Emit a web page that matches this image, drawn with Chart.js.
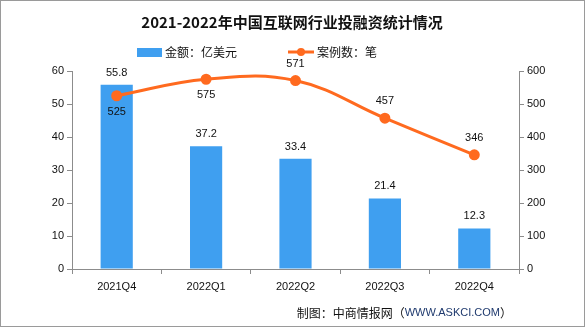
<!DOCTYPE html>
<html>
<head>
<meta charset="utf-8">
<script src="https://cdn.jsdelivr.net/npm/chart.js@4"></script>
<style>
  html, body { margin: 0; padding: 0; background: #fff; }
  #wrap { width: 585px; height: 327px; position: relative; }
</style>
</head>
<body>
<div id="wrap"><canvas id="chart" width="585" height="327"></canvas></div>
<script>
var quarters = ['2021Q4', '2022Q1', '2022Q2', '2022Q3', '2022Q4'];
var amounts = [55.8, 37.2, 33.4, 21.4, 12.3];
var deals = [525, 575, 571, 457, 346];
var dealLabelBelow = [true, true, false, false, false];

var titleText = '2021-2022年中国互联网行业投融资统计情况';
var amountLegend = '金额：亿美元';
var dealLegend = '案例数：笔';

var BLUE = '#3f9ff0';
var ORANGE = '#ff6a1f';
var AXIS = '#8c8c8c';
var FONT = '"Noto Sans CJK SC", "DejaVu Sans", sans-serif';
var NUMFONT = '"Liberation Sans", "DejaVu Sans", sans-serif';

var decorPlugin = {
    id: 'decor',
    afterDraw: function(chart) {
        var ctx = chart.ctx;
        ctx.save();
        // frame
        ctx.strokeStyle = '#9a9a9a';
        ctx.lineWidth = 1;
        ctx.strokeRect(0.5, 0.5, 584, 326);

        // title
        ctx.fillStyle = '#111';
        ctx.font = 'bold 15px ' + FONT;
        ctx.textAlign = 'center';
        ctx.textBaseline = 'middle';
        ctx.fillText(titleText, 292, 22);

        // legend
        ctx.font = '12px ' + FONT;
        ctx.textAlign = 'left';
        ctx.fillStyle = BLUE;
        ctx.fillRect(137, 48, 25, 9);
        ctx.fillStyle = '#111';
        ctx.fillText(amountLegend, 165, 52);
        ctx.strokeStyle = ORANGE;
        ctx.lineWidth = 3;
        ctx.beginPath();
        ctx.moveTo(288, 52);
        ctx.lineTo(314, 52);
        ctx.stroke();
        ctx.fillStyle = ORANGE;
        ctx.beginPath();
        ctx.arc(301, 52, 4, 0, Math.PI * 2);
        ctx.fill();
        ctx.fillStyle = '#111';
        ctx.fillText(dealLegend, 317, 52);

        // value labels
        ctx.font = '11px ' + NUMFONT;
        ctx.textAlign = 'center';
        ctx.fillStyle = '#111';
        var barMeta = chart.getDatasetMeta(0);
        barMeta.data.forEach(function(bar, i) {
            ctx.fillText(amounts[i].toFixed(1), bar.x, bar.y - 12);
        });
        var lineMeta = chart.getDatasetMeta(1);
        lineMeta.data.forEach(function(pt, i) {
            var dy = dealLabelBelow[i] ? 16 : -17;
            ctx.fillText(String(deals[i]), pt.x, pt.y + dy);
        });

        // source note
        ctx.font = '12px ' + FONT;
        ctx.textAlign = 'right';
        var tail = '）';
        var url = 'WWW.ASKCI.COM';
        var head = '制图：中商情报网（';
        var x = 512;
        ctx.fillStyle = '#111';
        ctx.fillText(tail, x, 313);
        x -= ctx.measureText(tail).width;
        ctx.font = '11px ' + NUMFONT;
        ctx.fillStyle = '#1f3a6e';
        ctx.fillText(url, x, 313);
        x -= ctx.measureText(url).width;
        ctx.font = '12px ' + FONT;
        ctx.fillStyle = '#111';
        ctx.fillText(head, x, 313);
        ctx.restore();
    }
};

new Chart(document.getElementById('chart'), {
    type: 'bar',
    data: {
        labels: quarters,
        datasets: [{
            type: 'bar',
            label: amountLegend,
            data: amounts,
            backgroundColor: BLUE,
            yAxisID: 'y',
            barPercentage: 0.72,
            categoryPercentage: 0.5,
            order: 2
        }, {
            type: 'line',
            label: dealLegend,
            data: deals,
            borderColor: ORANGE,
            backgroundColor: ORANGE,
            borderWidth: 3,
            pointRadius: 4,
            pointHoverRadius: 4,
            tension: 0.4,
            yAxisID: 'y1',
            order: 1
        }]
    },
    options: {
        responsive: false,
        animation: false,
        layout: { padding: { top: 71, left: 0, right: 0, bottom: 0 } },
        plugins: {
            legend: { display: false },
            title: { display: false },
            tooltip: { enabled: false }
        },
        scales: {
            x: {
                afterFit: function(s) { s.height = 58; },
                grid: { display: true, drawOnChartArea: false, color: AXIS, tickLength: 5, offset: true },
                border: { display: true, color: AXIS, width: 1 },
                ticks: { color: '#111', font: { family: NUMFONT, size: 11 }, padding: 6 }
            },
            y: {
                position: 'left',
                min: 0, max: 60,
                afterFit: function(s) { s.width = 72; },
                grid: { display: true, drawOnChartArea: false, color: AXIS, tickLength: 5 },
                border: { display: true, color: AXIS, width: 1 },
                ticks: { stepSize: 10, color: '#111', font: { family: NUMFONT, size: 11 }, padding: 3 }
            },
            y1: {
                position: 'right',
                min: 0, max: 600,
                afterFit: function(s) { s.width = 66; },
                grid: { display: true, drawOnChartArea: false, color: AXIS, tickLength: 5 },
                border: { display: true, color: AXIS, width: 1 },
                ticks: { stepSize: 100, color: '#111', font: { family: NUMFONT, size: 11 }, padding: 3 }
            }
        }
    },
    plugins: [decorPlugin]
});
</script>
</body>
</html>
